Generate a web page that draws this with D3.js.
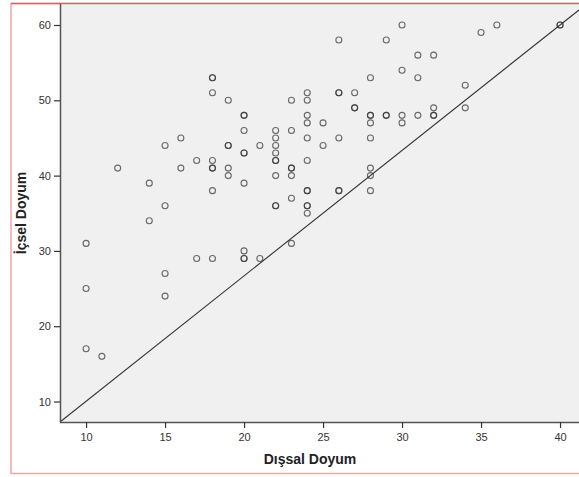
<!DOCTYPE html>
<html>
<head>
<meta charset="utf-8">
<script src="https://cdn.jsdelivr.net/npm/d3@7"></script>
<style>
  body { margin: 0; background: #fff; }
  svg { display: block; font-family: "Liberation Sans", Arial, sans-serif; }
</style>
</head>
<body>
<svg id="chart" width="579" height="477"></svg>
<script>
// Dışsal Doyum (x) ve İçsel Doyum (y) değerleri
const disDoyum = [
    10, 10, 10, 11, 12, 14, 14, 15, 15, 15, 15, 16, 16, 17, 17,
    18, 18, 18, 18, 18, 18, 18, 18, 19, 19, 19, 19, 19,
    20, 20, 20, 20, 20, 20, 20, 20, 20, 21, 21,
    22, 22, 22, 22, 22, 22, 22, 22, 22, 23, 23, 23, 23, 23, 23, 23,
    24, 24, 24, 24, 24, 24, 24, 24, 24, 24, 24, 25, 25,
    26, 26, 26, 26, 26, 26, 27, 27, 27, 28, 28, 28, 28, 28, 28, 28, 28,
    29, 29, 29, 30, 30, 30, 30, 31, 31, 31, 32, 32, 32, 32,
    34, 34, 35, 36, 40, 40
];
const icDoyum = [
    31, 25, 17, 16, 41, 39, 34, 44, 36, 27, 24, 45, 41, 42, 29,
    53, 53, 51, 42, 41, 41, 38, 29, 50, 44, 44, 41, 40,
    48, 48, 46, 43, 43, 39, 30, 29, 29, 44, 29,
    46, 45, 44, 43, 42, 42, 40, 36, 36, 50, 46, 41, 41, 40, 37, 31,
    51, 50, 48, 47, 45, 42, 38, 38, 36, 36, 35, 47, 44,
    58, 51, 51, 45, 38, 38, 51, 49, 49, 53, 48, 48, 47, 45, 41, 40, 38,
    58, 48, 48, 60, 54, 48, 47, 56, 53, 48, 56, 49, 48, 48,
    52, 49, 59, 60, 60, 60
];
const xTicks = [10, 15, 20, 25, 30, 35, 40];
const yTicks = [10, 20, 30, 40, 50, 60];
// referans çizgisi (iki uç nokta)
const refLineX = [8.35, 41.2];
const refLineY = [7.28, 62.0];

const svg = d3.select('#chart');
const plot = { left: 60, right: 579, top: 4, bottom: 422 };

const xScale = d3.scaleLinear().domain([8.35, 41.2]).range([plot.left, plot.right]);
const yScale = d3.scaleLinear().domain([7.28, 62.79]).range([plot.bottom, plot.top]);

// cadre rose
svg.append('rect')
    .attr('x', 11).attr('y', 3.5)
    .attr('width', 600).attr('height', 470)
    .attr('fill', 'none')
    .attr('stroke', '#f6a5a5')
    .attr('stroke-width', 1.5);

// fond du graphique
svg.append('rect')
    .attr('x', plot.left).attr('y', plot.top)
    .attr('width', plot.right - plot.left + 5)
    .attr('height', plot.bottom - plot.top)
    .attr('fill', '#f0f0f0');

svg.append('line')
    .attr('x1', 11).attr('x2', 579)
    .attr('y1', 3.5).attr('y2', 3.5)
    .attr('stroke', '#c96a6a')
    .attr('stroke-width', 1.5);

// ligne de référence
const line = d3.line().x(d => xScale(d[0])).y(d => yScale(d[1]));
svg.append('path')
    .datum(refLineX.map((x, i) => [x, refLineY[i]]))
    .attr('d', line)
    .attr('fill', 'none')
    .attr('stroke', '#333')
    .attr('stroke-width', 1.1);

// points
svg.append('g')
    .selectAll('circle')
    .data(disDoyum.map((x, i) => ({ x: x, y: icDoyum[i] })))
    .enter().append('circle')
    .attr('cx', d => xScale(d.x))
    .attr('cy', d => yScale(d.y))
    .attr('r', 3)
    .attr('fill', 'none')
    .attr('stroke', '#333')
    .attr('stroke-opacity', 0.72)
    .attr('stroke-width', 1.1);

// axes
const xAxis = d3.axisBottom(xScale).tickValues(xTicks).tickSize(6).tickSizeOuter(0);
const yAxis = d3.axisLeft(yScale).tickValues(yTicks).tickSize(6).tickSizeOuter(0);

const gx = svg.append('g')
    .attr('transform', `translate(0,${plot.bottom})`)
    .call(xAxis);
const gy = svg.append('g')
    .attr('transform', `translate(${plot.left},0)`)
    .call(yAxis);

[gx, gy].forEach(g => {
    g.select('.domain').attr('stroke', '#555').attr('stroke-width', 1.5);
    g.selectAll('.tick line').attr('stroke', '#333').attr('stroke-width', 1.2);
    g.selectAll('.tick text')
        .attr('fill', '#333')
        .style('font-size', '11px')
        .style('font-family', '"Liberation Sans", Arial, sans-serif');
});
gx.select('.domain').attr('d', `M${plot.left},0.5H${plot.right}`);
gy.select('.domain').attr('d', `M0.5,${plot.top}V${plot.bottom}`);
gx.selectAll('.tick text').attr('dy', '0.9em');

// titres des axes
svg.append('text')
    .attr('x', 310)
    .attr('y', 464)
    .attr('text-anchor', 'middle')
    .style('font-size', '14px')
    .style('font-weight', 'bold')
    .attr('fill', '#222')
    .text('Dışsal Doyum');

svg.append('text')
    .attr('transform', 'translate(26,213) rotate(-90)')
    .attr('text-anchor', 'middle')
    .style('font-size', '14px')
    .style('font-weight', 'bold')
    .attr('fill', '#222')
    .text('İçsel Doyum');
</script>
</body>
</html>
